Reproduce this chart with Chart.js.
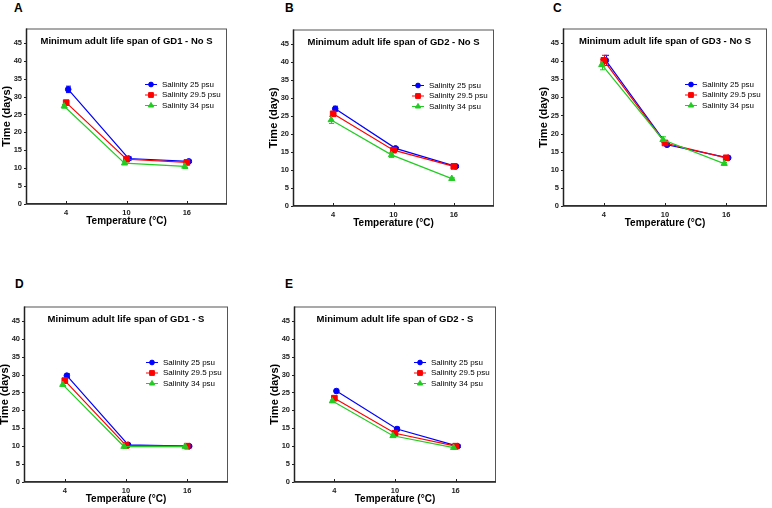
<!DOCTYPE html>
<html>
<head>
<meta charset="utf-8">
<script src="https://cdn.jsdelivr.net/npm/chart.js@4.4.1/dist/chart.umd.min.js"></script>
<style>
  html, body { margin: 0; padding: 0; background: #fff; }
  #page { position: relative; width: 772px; height: 508px; overflow: hidden; }
  #page canvas { position: absolute; }
  .letter { position: absolute; font: bold 12px "Liberation Sans", Arial, sans-serif; line-height: 13px; color: #000; }
</style>
</head>
<body>
<div id="page"></div>
<script>
// x values (temperature) and tick labels
const temperatures = [4, 10, 16];
const xTicks = [4, 10, 16];
const yTicks = [0, 5, 10, 15, 20, 25, 30, 35, 40, 45];
const salinityLabels = ['Salinity 25 psu', 'Salinity 29.5 psu', 'Salinity 34 psu'];
const panelLetters = ['A', 'B', 'C', 'D', 'E'];
const panelTitles = [
  'Minimum adult life span of GD1 - No S',
  'Minimum adult life span of GD2 - No S',
  'Minimum adult life span of GD3 - No S',
  'Minimum adult life span of GD1 - S',
  'Minimum adult life span of GD2 - S'
];

// rows: salinity 25, 29.5, 34 psu; columns: 4, 10, 16 °C
const gd1NoS    = [[32.0, 12.7, 11.9], [28.3, 12.5, 11.6], [27.3, 11.4, 10.5]];
const gd1NoSErr = [[0.9, 0.4, 0.3], [0.5, 0.4, 0.4], [0.5, 0.4, 0.6]];
const gd2NoS    = [[27.0, 16.0, 11.0], [25.6, 15.5, 11.0], [23.9, 14.2, 7.6]];
const gd2NoSErr = [[0.7, 0.3, 0.3], [0.5, 0.4, 0.3], [1.0, 0.7, 0.2]];
const gd3NoS    = [[40.2, 16.9, 13.3], [40.2, 17.4, 13.3], [39.0, 18.3, 11.7]];
const gd3NoSErr = [[1.4, 0.3, 0.4], [1.4, 0.3, 0.4], [1.4, 0.8, 0.3]];
const gd1S      = [[29.7, 10.4, 10.0], [28.3, 10.2, 10.0], [27.2, 9.9, 9.9]];
const gd1SErr   = [[0.5, 0.3, 0.3], [0.5, 0.3, 0.3], [0.3, 0.2, 0.2]];
const gd2S      = [[25.4, 14.8, 10.0], [23.4, 13.6, 10.0], [22.6, 12.9, 9.6]];
const gd2SErr   = [[0.5, 0.5, 0.3], [0.5, 0.4, 0.3], [0.3, 0.3, 0.3]];

// styling / layout
const seriesColors = ['#0000ff', '#ff0000', '#22cc22'];
const seriesPoints = ['circle', 'rect', 'triangle'];
const seriesRadius = [2.8, 4, 3.6];
const seriesShift = [0.2, 0, -0.2];
const boxes = [
  { l: 26, t: 24, r: 228, b: 204 },
  { l: 293, t: 25, r: 495, b: 206 },
  { l: 563, t: 24, r: 768, b: 206 },
  { l: 24, t: 302, r: 229, b: 482 },
  { l: 294, t: 302, r: 497, b: 482 }
];
const letterPos = [[14, 2], [285, 2], [553, 2], [15, 278], [285, 278]];

Chart.defaults.font.family = '"Liberation Sans", Arial, sans-serif';

const page = document.getElementById('page');

const panelPlugin = {
  id: 'panel',
  beforeDatasetsDraw(chart) {
    const { ctx, scales: { x, y } } = chart;
    ctx.save();
    ctx.lineWidth = 1;
    chart.data.datasets.forEach(ds => {
      ctx.strokeStyle = ds.borderColor;
      ds.data.forEach((p, j) => {
        const e = ds.errors[j];
        const px = Math.round(x.getPixelForValue(p.x)) + 0.5;
        const y1 = y.getPixelForValue(p.y - e);
        const y2 = y.getPixelForValue(p.y + e);
        ctx.beginPath();
        ctx.moveTo(px, y1); ctx.lineTo(px, y2);
        ctx.moveTo(px - 2.5, y1); ctx.lineTo(px + 2.5, y1);
        ctx.moveTo(px - 2.5, y2); ctx.lineTo(px + 2.5, y2);
        ctx.stroke();
      });
    });
    ctx.restore();
  },
  afterDraw(chart, args, opts) {
    const { ctx, chartArea: a, scales: { x, y } } = chart;
    ctx.save();
    // frame
    ctx.strokeStyle = '#555';
    ctx.lineWidth = 1;
    ctx.strokeRect(a.left + 0.5, a.top + 0.5, a.right - a.left - 1, a.bottom - a.top - 1);
    ctx.strokeStyle = '#222';
    ctx.lineWidth = 1.5;
    ctx.beginPath();
    ctx.moveTo(a.left + 0.5, a.top); ctx.lineTo(a.left + 0.5, a.bottom);
    ctx.lineTo(a.right, a.bottom);
    ctx.stroke();
    // tick marks
    ctx.lineWidth = 1;
    ctx.beginPath();
    y.ticks.forEach(t => {
      const py = Math.round(y.getPixelForValue(t.value)) + 0.5;
      ctx.moveTo(a.left - 2, py); ctx.lineTo(a.left, py);
    });
    x.ticks.forEach(t => {
      const px = Math.round(x.getPixelForValue(t.value)) + 0.5;
      ctx.moveTo(px, a.bottom); ctx.lineTo(px, a.bottom - 3);
    });
    ctx.stroke();
    // title inside the frame
    ctx.fillStyle = '#000';
    ctx.font = 'bold 9.5px "Liberation Sans", Arial, sans-serif';
    ctx.textAlign = 'center';
    ctx.textBaseline = 'middle';
    ctx.fillText(opts.text, (a.left + a.right) / 2, a.top + 12.5);
    // legend
    ctx.font = '8px "Liberation Sans", Arial, sans-serif';
    ctx.textAlign = 'left';
    const tx = a.right - 65;
    chart.data.datasets.forEach((ds, i) => {
      const ly = a.top + 56 + i * 10.5;
      ctx.strokeStyle = ds.borderColor;
      ctx.fillStyle = ds.backgroundColor;
      ctx.beginPath();
      ctx.moveTo(tx - 17, ly); ctx.lineTo(tx - 5, ly);
      ctx.stroke();
      Chart.helpers.drawPoint(ctx, { pointStyle: ds.pointStyle, radius: ds.pointRadius * 0.85, borderWidth: 1, rotation: 0 }, tx - 11, ly);
      ctx.fillStyle = '#000';
      ctx.fillText(ds.label, tx, ly);
    });
    ctx.restore();
  }
};

function makePanel(i, values, errors) {
  const box = boxes[i];
  const left = box.l - 26, top = box.t - 4;
  const w = box.r + 4 - left, h = box.b + 23 - top;
  const cv = document.createElement('canvas');
  cv.width = w; cv.height = h;
  cv.style.left = left + 'px'; cv.style.top = top + 'px';
  cv.style.width = w + 'px'; cv.style.height = h + 'px';
  page.appendChild(cv);

  const lt = document.createElement('div');
  lt.className = 'letter';
  lt.textContent = panelLetters[i];
  lt.style.left = letterPos[i][0] + 'px';
  lt.style.top = letterPos[i][1] + 'px';
  page.appendChild(lt);

  const datasets = values.map((row, s) => ({
    label: salinityLabels[s],
    data: row.map((v, j) => ({ x: temperatures[j] + seriesShift[s], y: v })),
    errors: errors[s],
    showLine: true,
    borderColor: seriesColors[s],
    backgroundColor: seriesColors[s],
    borderWidth: 1.2,
    pointStyle: seriesPoints[s],
    pointRadius: seriesRadius[s],
    pointBorderWidth: 1,
    order: 2 - s
  }));

  new Chart(cv, {
    type: 'scatter',
    data: { datasets },
    options: {
      responsive: false,
      animation: false,
      devicePixelRatio: 1,
      layout: { padding: { top: 4, right: 4, left: 0, bottom: 0 } },
      plugins: {
        legend: { display: false },
        tooltip: { enabled: false },
        panel: { text: panelTitles[i] }
      },
      scales: {
        x: {
          type: 'linear', min: 0, max: 20,
          afterBuildTicks: s => { s.ticks = xTicks.map(v => ({ value: v })); },
          afterFit: s => { s.height = 23; },
          grid: { display: false, drawTicks: false },
          border: { display: false },
          ticks: { padding: 4, maxRotation: 0, color: '#222', font: { size: 7.5, weight: 'bold' } },
          title: { display: true, text: 'Temperature (°C)', color: '#000', padding: 0, font: { size: 10, weight: 'bold' } }
        },
        y: {
          type: 'linear', min: 0, max: 49,
          afterBuildTicks: s => { s.ticks = yTicks.map(v => ({ value: v })); },
          afterFit: s => { s.width = 26; },
          grid: { display: false, drawTicks: false },
          border: { display: false },
          ticks: { padding: 4, color: '#222', font: { size: 7.5, weight: 'bold' } },
          title: { display: true, text: 'Time (days)', color: '#000', padding: 0, font: { size: 11, weight: 'bold' } }
        }
      }
    },
    plugins: [panelPlugin]
  });
}

makePanel(0, gd1NoS, gd1NoSErr);
makePanel(1, gd2NoS, gd2NoSErr);
makePanel(2, gd3NoS, gd3NoSErr);
makePanel(3, gd1S, gd1SErr);
makePanel(4, gd2S, gd2SErr);
</script>
</body>
</html>
